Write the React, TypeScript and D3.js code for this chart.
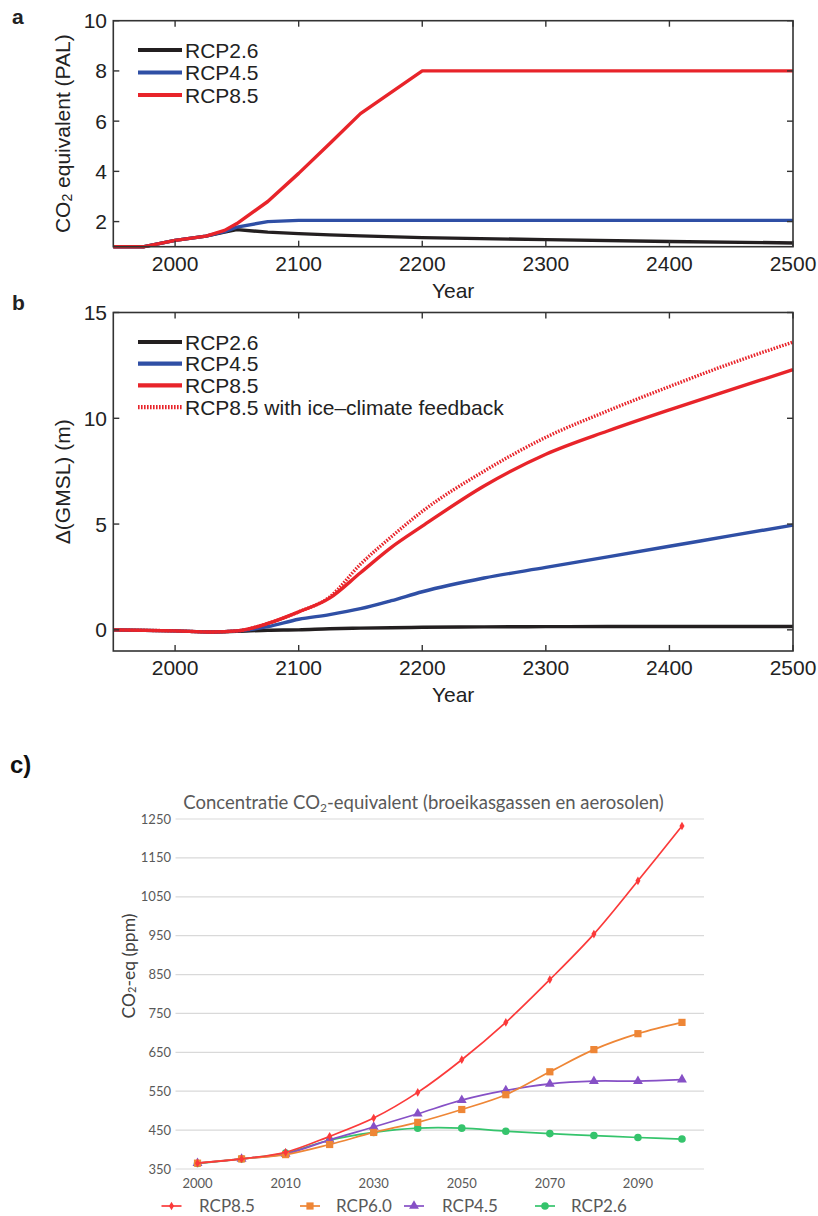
import * as d3 from 'd3';

// panel a: CO2 equivalent (PAL)
const yearsA = [1950, 1975, 2000, 2025, 2040, 2050, 2075, 2100, 2125, 2150, 2200, 2300, 2400, 2500];
const rcp26A = [1.0, 1.0, 1.25, 1.42, 1.58, 1.68, 1.58, 1.52, 1.47, 1.43, 1.36, 1.28, 1.21, 1.15];
const rcp45A = [1.0, 1.0, 1.25, 1.42, 1.6, 1.78, 2.0, 2.05, 2.05, 2.05, 2.05, 2.05, 2.05, 2.05];
const rcp85A = [1.0, 1.0, 1.25, 1.42, 1.65, 1.92, 2.8, 3.92, 5.1, 6.3, 8.0, 8.0, 8.0, 8.0];

// panel b: GMSL change (m)
const yearsB = [1950, 2000, 2030, 2050, 2075, 2100, 2125, 2150, 2175, 2200, 2250, 2300, 2350, 2400, 2450, 2500];
const rcp26B = [0, -0.05, -0.1, -0.07, -0.02, 0.0, 0.05, 0.08, 0.1, 0.12, 0.14, 0.15, 0.16, 0.16, 0.16, 0.16];
const rcp45B = [0, -0.05, -0.1, -0.05, 0.15, 0.5, 0.72, 1.0, 1.38, 1.8, 2.45, 2.95, 3.45, 3.95, 4.45, 4.95];
const rcp85B = [0, -0.05, -0.1, -0.05, 0.3, 0.85, 1.5, 2.7, 3.9, 4.9, 6.8, 8.3, 9.4, 10.4, 11.35, 12.3];
const rcp85fbB = [0, -0.05, -0.1, -0.05, 0.3, 0.85, 1.55, 3.1, 4.4, 5.6, 7.5, 9.1, 10.35, 11.5, 12.6, 13.6];

const yearTicksAB = [2000, 2100, 2200, 2300, 2400, 2500];
const yTicksA = [2, 4, 6, 8, 10];
const yTicksB = [0, 5, 10, 15];

// panel c: CO2-eq (ppm)
const yearsC = ['2000', '2005', '2010', '2020', '2030', '2040', '2050', '2060', '2070', '2080', '2090', '2100'];
const xLabelsC = ['2000', '2010', '2030', '2050', '2070', '2090'];
const rcp85C = [365, 376, 393, 434, 481, 547, 631, 727, 837, 954, 1091, 1232];
const rcp60C = [365, 376, 387, 413, 444, 470, 503, 541, 600, 657, 698, 727];
const rcp45C = [365, 376, 389, 425, 458, 492, 527, 552, 569, 576, 576, 580];
const rcp26C = [364, 376, 391, 424, 444, 455, 455, 447, 441, 436, 431, 427];
const yTicksC = [350, 450, 550, 650, 750, 850, 950, 1050, 1150, 1250];

const BLACK = '#231f20';
const BLUE = '#2f4fa5';
const RED = '#e8242a';
const FONT = '"Liberation Sans", Arial, sans-serif';
const FONT_C = 'Lato, "Open Sans", sans-serif';

function MatlabPanel({ label, years, series, yDomain, yRange, yTicks, ylabel, legend, legendTop, legendStep, labelY }: any) {
  const x = d3.scaleLinear().domain([1950, 2500]).range([113.3, 793]);
  const y = d3.scaleLinear().domain(yDomain).range(yRange);
  const [x0, x1] = x.range();
  const [yb, yt] = y.range();
  const tl = 6;
  return (
    <g>
      <text x={12} y={labelY} fontFamily={FONT} fontWeight="bold" fontSize={21} fill="#222">{label}</text>
      {series.map((s: any, i: number) => {
        const line = d3.line<number>().x((_, j) => x(years[j])).y(d => y(d)).curve(s.curve || d3.curveLinear);
        return <path key={i} d={line(s.values) || ''} fill="none" stroke={s.color} strokeWidth={3.4}
          strokeDasharray={s.dotted ? '1.6,1.4' : undefined} strokeLinejoin="round" />;
      })}
      <rect x={x0} y={yt} width={x1 - x0} height={yb - yt} fill="none" stroke="#333" strokeWidth={1.6} />
      {yearTicksAB.map(t => (
        <g key={t}>
          <line x1={x(t)} x2={x(t)} y1={yb} y2={yb - tl} stroke="#333" strokeWidth={1.4} />
          <line x1={x(t)} x2={x(t)} y1={yt} y2={yt + tl} stroke="#333" strokeWidth={1.4} />
          <text x={x(t)} y={yb + 24} textAnchor="middle" fontFamily={FONT} fontSize={21} fill="#222">{t}</text>
        </g>
      ))}
      {yTicks.map((t: number) => (
        <g key={t}>
          <line x1={x0} x2={x0 + tl} y1={y(t)} y2={y(t)} stroke="#333" strokeWidth={1.4} />
          <line x1={x1} x2={x1 - tl} y1={y(t)} y2={y(t)} stroke="#333" strokeWidth={1.4} />
          <text x={107} y={y(t)} dy="0.36em" textAnchor="end" fontFamily={FONT} fontSize={21} fill="#222">{t}</text>
        </g>
      ))}
      <text x={(x0 + x1) / 2} y={yb + 51} textAnchor="middle" fontFamily={FONT} fontSize={21} fill="#222">Year</text>
      <text transform={`translate(62,${(yt + yb) / 2}) rotate(-90)`} textAnchor="middle" dominantBaseline="central"
        fontFamily={FONT} fontSize={21} fill="#222">{ylabel}</text>
      {legend.map((l: any, i: number) => (
        <g key={i}>
          <line x1={138} x2={182} y1={legendTop + i * legendStep} y2={legendTop + i * legendStep} stroke={l.color}
            strokeWidth={4.2} strokeDasharray={l.dotted ? '1.6,1.4' : undefined} />
          <text x={185} y={legendTop + i * legendStep} dy="0.36em" fontFamily={FONT} fontSize={21} fill="#222">{l.name}</text>
        </g>
      ))}
    </g>
  );
}

function Marker({ kind, cx, cy, color }: any) {
  if (kind === 'square') return <rect x={cx - 3.6} y={cy - 3.6} width={7.2} height={7.2} fill={color} />;
  if (kind === 'triangle') return <path d={d3.symbol(d3.symbolTriangle, 42)() || ''} transform={`translate(${cx},${cy})`} fill={color} />;
  if (kind === 'circle') return <circle cx={cx} cy={cy} r={3.8} fill={color} />;
  return <path d={d3.symbol(d3.symbolDiamond, 22)() || ''} transform={`translate(${cx},${cy})`} fill={color} />;
}

function PanelC() {
  const x = d3.scalePoint<string>().domain(yearsC).range([175.5, 704]).padding(0.5);
  const y = d3.scaleLinear().domain([350, 1250]).range([1169, 819]);
  const series = [
    { name: 'RCP8.5', values: rcp85C, color: '#fb3a3a', marker: 'diamond', lx: 171.5, tx: 199 },
    { name: 'RCP6.0', values: rcp60C, color: '#ee8636', marker: 'square', lx: 310, tx: 336 },
    { name: 'RCP4.5', values: rcp45C, color: '#8650c6', marker: 'triangle', lx: 414, tx: 442 },
    { name: 'RCP2.6', values: rcp26C, color: '#35c46c', marker: 'circle', lx: 545, tx: 571 },
  ];
  const line = d3.line<number>().x((_, j) => x(yearsC[j]) as number).y(d => y(d)).curve(d3.curveCatmullRom);
  const draw = [...series].reverse();
  return (
    <g>
      <text x={10} y={773} fontFamily={FONT} fontWeight="bold" fontSize={24} fill="#111">c)</text>
      <text x={423.5} y={809} textAnchor="middle" fontFamily={FONT_C} fontSize={18.5} fill="#595959">
        Concentratie CO<tspan fontSize={12} dy={3}>2</tspan><tspan dy={-3}>-equivalent (broeikasgassen en aerosolen)</tspan>
      </text>
      {yTicksC.map(t => (
        <g key={t}>
          <line x1={175.5} x2={704} y1={y(t)} y2={y(t)} stroke="#d9d9d9" strokeWidth={1.2} />
          <text x={171} y={y(t)} dy="0.35em" textAnchor="end" fontFamily={FONT_C} fontSize={13} fill="#595959">{t}</text>
        </g>
      ))}
      {xLabelsC.map(t => (
        <text key={t} x={x(t) as number} y={1188} textAnchor="middle" fontFamily={FONT_C} fontSize={13} fill="#595959">{t}</text>
      ))}
      <text transform="translate(128,966) rotate(-90)" textAnchor="middle" dominantBaseline="central"
        fontFamily={FONT_C} fontSize={17.5} fill="#404040">
        CO<tspan fontSize={11} dy={3}>2</tspan><tspan dy={-3}>-eq (ppm)</tspan>
      </text>
      {draw.map(s => (
        <g key={s.name}>
          <path d={line(s.values) || ''} fill="none" stroke={s.color} strokeWidth={1.7} />
          {s.values.map((v, j) => (
            <Marker key={j} kind={s.marker} cx={x(yearsC[j]) as number} cy={y(v)} color={s.color} />
          ))}
        </g>
      ))}
      {series.map(s => (
        <g key={s.name}>
          <line x1={s.lx - 10} x2={s.lx + 10} y1={1206} y2={1206} stroke={s.color} strokeWidth={1.7} />
          <Marker kind={s.marker} cx={s.lx} cy={1206} color={s.color} />
          <text x={s.tx} y={1206} dy="0.34em" fontFamily={FONT_C} fontSize={17} fill="#595959">{s.name}</text>
        </g>
      ))}
    </g>
  );
}

export default function App() {
  const legendA = [
    { name: 'RCP2.6', color: BLACK },
    { name: 'RCP4.5', color: BLUE },
    { name: 'RCP8.5', color: RED },
  ];
  const legendB = [...legendA, { name: 'RCP8.5 with ice\u2013climate feedback', color: RED, dotted: true }];
  return (
    <div style={{ position: 'absolute', left: 0, top: 0 }}>
      <svg width={818} height={1216} style={{ display: 'block', background: '#fff' }}>
        <MatlabPanel label="a" labelY={24} years={yearsA}
          series={[
            { values: rcp26A, color: BLACK },
            { values: rcp45A, color: BLUE },
            { values: rcp85A, color: RED },
          ]}
          yDomain={[1, 10]} yRange={[246.7, 20.7]} yTicks={yTicksA}
          ylabel={<>CO<tspan fontSize={14} dy={5}>2</tspan><tspan dy={-5}> equivalent (PAL)</tspan></>}
          legend={legendA} legendTop={50} legendStep={22.5} />
        <MatlabPanel label="b" labelY={310} years={yearsB}
          series={[
            { values: rcp26B, color: BLACK, curve: d3.curveMonotoneX },
            { values: rcp45B, color: BLUE, curve: d3.curveMonotoneX },
            { values: rcp85fbB, color: RED, dotted: true, curve: d3.curveMonotoneX },
            { values: rcp85B, color: RED, curve: d3.curveMonotoneX },
          ]}
          yDomain={[-1, 15]} yRange={[651, 312.5]} yTicks={yTicksB}
          ylabel={'\u0394(GMSL) (m)'}
          legend={legendB} legendTop={342} legendStep={21.7} />
        <PanelC />
      </svg>
    </div>
  );
}
